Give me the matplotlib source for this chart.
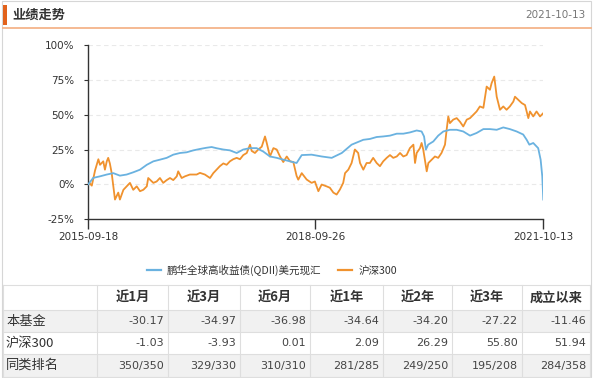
import numpy as np
import pandas as pd
import matplotlib
matplotlib.use('Agg')
import matplotlib.pyplot as plt
import matplotlib.dates as mdates
from matplotlib.patches import Rectangle
from matplotlib.lines import Line2D

plt.rcParams['font.family'] = ['Noto Sans CJK SC', 'DejaVu Sans']

# ---------------- data ----------------
start_date = "2015-09-18"
end_date = "2021-10-13"
mid_tick = "2018-09-26"

fund_name = "鹏华全球高收益债(QDII)美元现汇"
index_name = "沪深300"

# days since start, cumulative return (%)
fund_days = [0, 24, 57, 90, 122, 154, 187, 219, 252, 285,
             317, 349, 382, 414, 447, 479, 512, 544, 577, 601,
             626, 658, 690, 723, 755, 788, 820, 853, 885, 918,
             950, 983, 1015, 1040, 1088, 1137, 1186, 1235, 1283, 1340,
             1372, 1405, 1437, 1470, 1503, 1535, 1567, 1600, 1624, 1636,
             1645, 1656, 1681, 1705, 1730, 1762, 1795, 1827, 1860, 1892,
             1925, 1957, 1990, 2022, 2054, 2087, 2119, 2136, 2149, 2168,
             2192, 2204, 2212, 2217]
fund_vals = [0, 4.6, 5.7, 7, 8, 6.2, 7, 8.6, 10.5, 14,
             16.5, 17.7, 19, 21.3, 22.5, 23, 24.4, 25.4, 26.3, 26.8,
             25.9, 25, 24.4, 22.5, 25, 26, 26, 23.5, 20, 19,
             17.7, 16.5, 15.3, 21, 21.3, 20, 19, 22.5, 28.5, 32,
             32.6, 34, 34.4, 35, 36.4, 36.4, 37.3, 38.7, 38, 34.4,
             25, 28.5, 30.8, 35, 38, 39.2, 39.2, 38, 35, 36.9,
             39.7, 39.7, 39.2, 40.9, 39.7, 38, 35.8, 32, 28.5, 29.7,
             26, 17.7, 5.7, -11]

index_days = [0,
              5, 17, 33, 49, 57, 73, 81, 90, 97, 105,
              114, 122, 130, 146, 154, 171, 187, 203, 219, 236,
              252, 268, 285, 292, 317, 333, 349, 365, 382, 398,
              414, 431, 438, 455, 471, 495, 528, 544, 568, 593,
              609, 625, 641, 658, 674, 690, 706, 723, 739, 755,
              772, 788, 796, 812, 828, 845, 861, 869, 885, 902,
              918, 934, 950, 967, 983, 999, 1015, 1023, 1040, 1064,
              1088, 1104, 1121, 1137, 1161, 1177, 1194, 1210, 1226, 1242,
              1251, 1267, 1283, 1299, 1315, 1324, 1340, 1356, 1372, 1388,
              1405, 1421, 1437, 1454, 1470, 1486, 1503, 1519, 1535, 1551,
              1567, 1584, 1592, 1600, 1616, 1624, 1632, 1640, 1649, 1657,
              1673, 1689, 1705, 1721, 1738, 1746, 1754, 1762, 1778, 1795,
              1811, 1827, 1844, 1860, 1876, 1892, 1908, 1925, 1941, 1957,
              1965, 1978, 1990, 2006, 2022, 2038, 2054, 2071, 2079, 2095,
              2112, 2128, 2144, 2152, 2168, 2184, 2201, 2217]
index_vals = [0,
              1, -1, 10, 18, 14, 16.5, 10.5, 16.5, 19, 15,
              8, -1.5, -11, -6, -11, -4, -1.5, 1, -4, -1.5,
              -5, -4, -1.5, 4.5, 1, 2, 4.5, 1, 3, 4.5,
              3, 5.7, 9.3, 4.5, 5.7, 7, 7, 8.2, 7, 4.5,
              8, 10.5, 13, 15, 14, 16.5, 18, 19, 18, 21,
              22.5, 28.5, 24, 22.5, 25, 27, 34.4, 30, 20, 26,
              25, 20, 16, 20, 16.5, 16, 6, 3.3, 8, 3.4,
              1, 2, -5, -0.2, -1.5, -2.5, -6, -7.4, -3.8, 1,
              8, 10.5, 15.3, 25, 22.5, 15.3, 10.5, 15.3, 15.3, 19,
              15.3, 13, 16.5, 19, 21, 19, 20, 22.5, 20, 21,
              26, 28.5, 15.3, 22.5, 26, 29.7, 25, 17.7, 9.3, 15.3,
              17.7, 20, 19, 22.5, 28.5, 39.2, 48.8, 44, 46.5, 47.6,
              45, 41.6, 46.5, 47.6, 50, 52.4, 56, 55, 70.3, 68,
              72.7, 77.5, 63, 53.6, 56, 53.6, 56, 59.5, 63, 60.8,
              58.4, 57, 47.6, 52.4, 48.8, 52.4, 48.8, 51.2]

y_ticks = [-25, 0, 25, 50, 75, 100]

col_headers = ["近1月", "近3月", "近6月", "近1年", "近2年", "近3年", "成立以来"]
row_labels = ["本基金", "沪深300", "同类排名"]
fund_returns = ["-30.17", "-34.97", "-36.98", "-34.64", "-34.20", "-27.22", "-11.46"]
index_returns = ["-1.03", "-3.93", "0.01", "2.09", "26.29", "55.80", "51.94"]
peer_rank = ["350/350", "329/330", "310/310", "281/285", "249/250", "195/208", "284/358"]

title = "业绩走势"
report_date = "2021-10-13"

# ---------------- figure ----------------
W, H = 594, 378
fig = plt.figure(figsize=(W / 100, H / 100), dpi=100)


def fx(x):
    return x / W


def fy(y):
    return 1 - y / H


def frect(x0, y0, x1, y1, **kw):
    fig.patches.append(Rectangle((fx(x0), fy(y1)), fx(x1) - fx(x0), fy(y0) - fy(y1),
                                 transform=fig.transFigure, **kw))


def fline(x0, y0, x1, y1, **kw):
    fig.lines.append(Line2D([fx(x0), fx(x1)], [fy(y0), fy(y1)], transform=fig.transFigure, **kw))


BLUE = '#6ab2e0'
ORANGE = '#f0922e'

# outer frame
frect(2, 1, 591, 377, fill=False, edgecolor='#d6d6d6', lw=0.8)
# header
frect(3, 5, 6.5, 25, facecolor='#e2621b', edgecolor='none')
fig.text(fx(12), fy(15), title, fontsize=9.5, fontweight='bold', color='#333333', va='center', ha='left')
fig.text(fx(586), fy(15), report_date, fontsize=7.5, color='#777777', va='center', ha='right',
         family='DejaVu Sans')
fline(3, 27.5, 591, 27.5, color='#f4b48a', lw=1.3)

# ---------------- chart ----------------
ax = fig.add_axes([fx(88.3), fy(219), (543.3 - 88.3) / W, (219 - 45.3) / H])
t0 = pd.Timestamp(start_date)
fund_dates = t0 + pd.to_timedelta(fund_days, unit='D')
index_dates = t0 + pd.to_timedelta(index_days, unit='D')

for v in y_ticks[1:]:
    ax.axhline(v, color='#e9e9e9', lw=0.8, ls=(0, (4, 3)), zorder=0)

ax.plot(fund_dates, fund_vals, color=BLUE, lw=1.3, zorder=3)
ax.plot(index_dates, index_vals, color=ORANGE, lw=1.3, zorder=2)

ax.set_ylim(-25, 100)
ax.set_xlim(pd.Timestamp(start_date), pd.Timestamp(end_date))
ax.set_yticks(y_ticks)
ax.set_yticklabels([f"{v}%" for v in y_ticks], family='DejaVu Sans')
xt = [pd.Timestamp(start_date), pd.Timestamp(mid_tick), pd.Timestamp(end_date)]
ax.set_xticks(xt)
ax.set_xticklabels([start_date, mid_tick, end_date], family='DejaVu Sans')
ax.tick_params(axis='y', length=3, width=0.8, pad=7, labelsize=7.5, colors='#333333')
ax.tick_params(axis='x', length=7, width=1.0, pad=2.5, labelsize=7.5, colors='#333333')
for s in ['top', 'right']:
    ax.spines[s].set_visible(False)
for s in ['left', 'bottom']:
    ax.spines[s].set_color('#333333')
    ax.spines[s].set_linewidth(1.0)
ax.set_facecolor('none')

# legend
handles = [Line2D([], [], color=BLUE, lw=1.6), Line2D([], [], color=ORANGE, lw=1.6)]
fig.legend(handles, [fund_name, index_name], loc='center', bbox_to_anchor=(fx(272), fy(270)),
           ncol=2, frameon=False, fontsize=7.6, handlelength=1.3, handletextpad=0.6,
           columnspacing=1.6, labelcolor='#333333')

# ---------------- table ----------------
col_edges = [3, 97, 168, 240, 310, 383, 452, 522, 590]
row_edges = [285, 310, 332, 354, 377]
row_bg = ['white', '#f1f1f1', 'white', '#f1f1f1']

for i in range(4):
    frect(col_edges[0], row_edges[i], col_edges[-1], row_edges[i + 1], facecolor=row_bg[i], edgecolor='none')
for y in row_edges:
    fline(col_edges[0], y, col_edges[-1], y, color='#dedede', lw=0.8)
for x in col_edges:
    fline(x, row_edges[0], x, row_edges[-1], color='#dedede', lw=0.8)

hy = (row_edges[0] + row_edges[1]) / 2
for j, h in enumerate(col_headers):
    cx = (col_edges[j + 1] + col_edges[j + 2]) / 2
    fig.text(fx(cx), fy(hy), h, fontsize=9.5, fontweight='bold', color='#333333', ha='center', va='center')

rows = [fund_returns, index_returns, peer_rank]
for i, (lab, vals) in enumerate(zip(row_labels, rows)):
    cy = (row_edges[i + 1] + row_edges[i + 2]) / 2
    fig.text(fx(6), fy(cy), lab, fontsize=9.5, color='#333333', ha='left', va='center')
    for j, v in enumerate(vals):
        fig.text(fx(col_edges[j + 2] - 4), fy(cy), v, fontsize=8, color='#444444',
                 ha='right', va='center', family='DejaVu Sans')

fig.savefig('out.png', dpi=100)
